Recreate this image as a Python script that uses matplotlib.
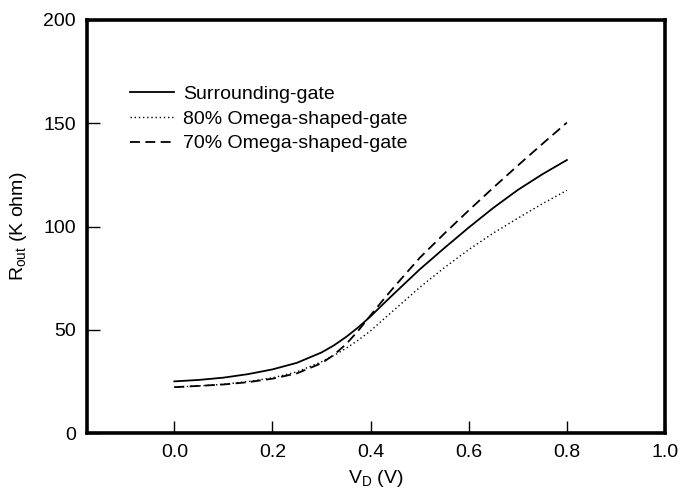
import matplotlib
matplotlib.use("Agg")
import matplotlib.pyplot as plt

plt.rcParams['font.family'] = ['Liberation Sans', 'DejaVu Sans']
plt.rcParams['mathtext.fontset'] = 'custom'
plt.rcParams['mathtext.rm'] = 'Liberation Sans'
plt.rcParams['mathtext.it'] = 'Liberation Sans'

vd = [0.00, 0.05, 0.10, 0.15, 0.20, 0.25, 0.30, 0.325, 0.35, 0.375, 0.40,
      0.425, 0.45, 0.50, 0.55, 0.60, 0.65, 0.70, 0.75, 0.80]
surrounding = [25.0, 25.7, 26.8, 28.5, 30.8, 34.0, 39.0, 42.4, 46.5, 51.2, 56.5,
               62.3, 68.0, 79.2, 89.5, 99.5, 109.0, 117.7, 125.3, 132.2]
omega80 = [22.2, 22.8, 23.6, 24.9, 26.7, 29.6, 34.5, 37.5, 41.0, 45.0, 49.5,
           54.8, 60.0, 70.5, 80.0, 88.8, 96.8, 104.0, 111.0, 117.5]
omega70 = [22.2, 22.8, 23.5, 24.6, 26.3, 28.9, 33.8, 37.8, 43.0, 49.6, 57.0,
           64.3, 71.3, 84.8, 96.5, 107.8, 118.8, 129.5, 140.0, 150.3]
labels = ["Surrounding-gate", "80% Omega-shaped-gate", "70% Omega-shaped-gate"]
xticks = [0.0, 0.2, 0.4, 0.6, 0.8, 1.0]
yticks = [0, 50, 100, 150, 200]

fig = plt.figure(figsize=(6.8, 4.91), dpi=100)
ax = fig.add_axes([87/680, 1-433/491, (665-87)/680, (433-20)/491])

ax.plot(vd, surrounding, color='black', lw=1.3, linestyle='-', label=labels[0])
ax.plot(vd, omega80, color='black', lw=1.0, linestyle=(0, (1, 2)), label=labels[1])
ax.plot(vd, omega70, color='black', lw=1.3, linestyle=(0, (5.5, 3)), label=labels[2])

ax.set_xlim(-0.178, 1.0)
ax.set_ylim(0, 200)
ax.set_xticks(xticks)
ax.set_xticklabels([f"{t:.1f}" for t in xticks])
ax.set_yticks(yticks)
ax.tick_params(direction='in', length=9, width=1.0, labelsize=14, pad=8,
               top=False, right=False)
for s in ax.spines.values():
    s.set_linewidth(2.6)

ax.set_xlabel("V$_\\mathrm{D}$ (V)", fontsize=14, labelpad=5)
ax.set_ylabel("R$_\\mathrm{out}$ (K ohm)", fontsize=14, labelpad=10)

ax.legend(loc='upper left', bbox_to_anchor=(0.057, 0.865), frameon=False,
          fontsize=14, handlelength=2.3, handletextpad=0.45, labelspacing=0.36,
          borderpad=0)

fig.savefig("out.png", dpi=100)
